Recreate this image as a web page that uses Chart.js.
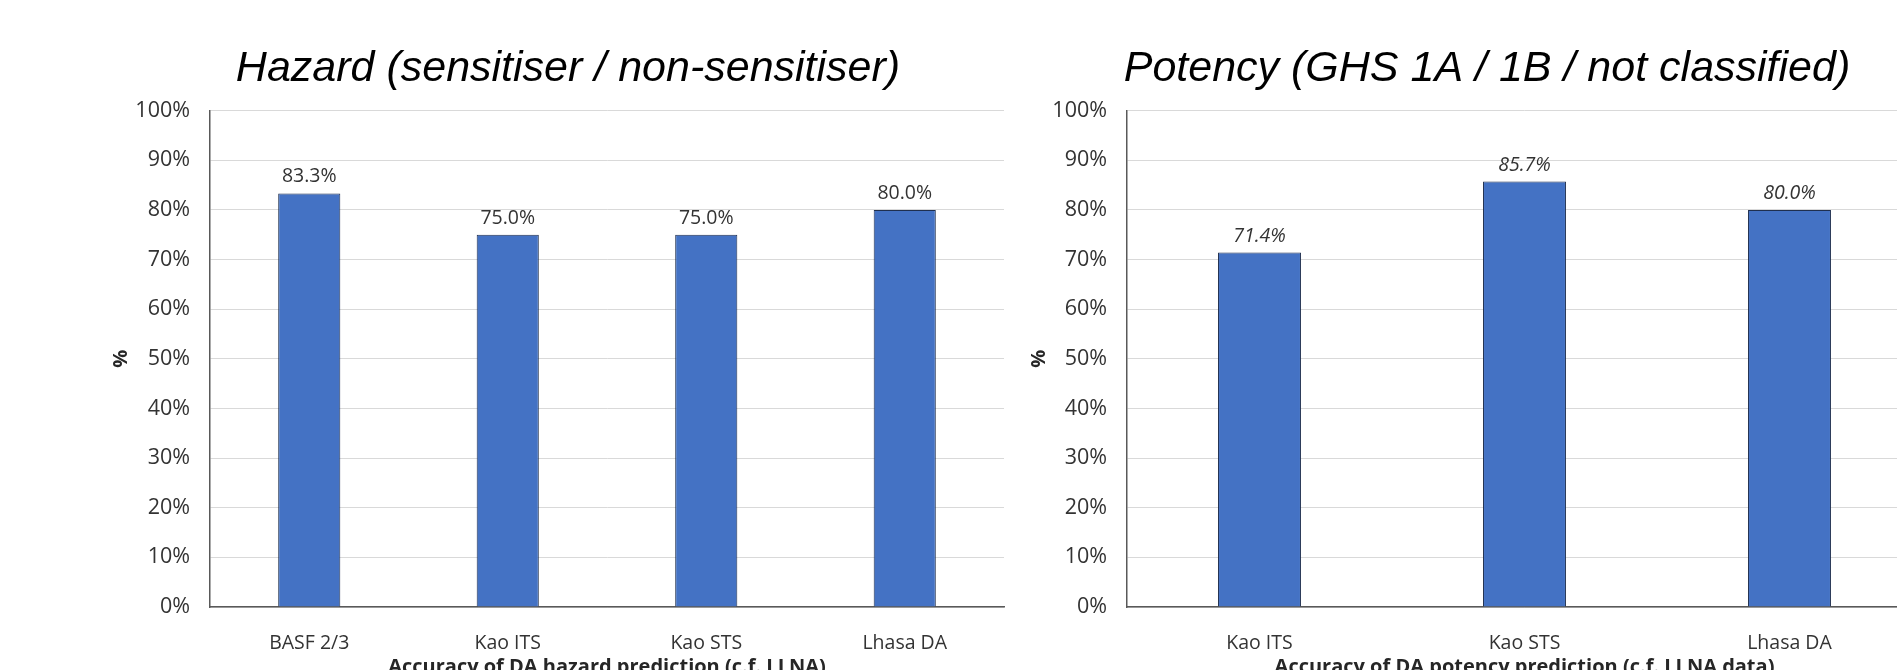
<!DOCTYPE html>
<html>
<head>
<meta charset="utf-8">
<script src="https://cdn.jsdelivr.net/npm/chart.js@4"></script>
<style>
  html, body { margin: 0; padding: 0; background: #fff; overflow: hidden; width: 1897px; height: 670px; }
  #leftBox { position: absolute; left: 0; top: 0; width: 1010px; height: 700px; }
  #rightBox { position: absolute; left: 1010px; top: 0; width: 918px; height: 700px; }
</style>
</head>
<body>
<div id="leftBox"><canvas id="hazardChart"></canvas></div>
<div id="rightBox"><canvas id="potencyChart"></canvas></div>
<script>
// data
const hazardLabels = ["BASF 2/3", "Kao ITS", "Kao STS", "Lhasa DA"];
const hazardValues = [83.3, 75.0, 75.0, 80.0];

const potencyLabels = ["Kao ITS", "Kao STS", "Lhasa DA"];
const potencyValues = [71.4, 85.7, 80.0];

const yTicks = [0, 10, 20, 30, 40, 50, 60, 70, 80, 90, 100];

const textFont = '"Open Sans", sans-serif';

// value labels above bars
const barLabels = {
  id: 'barLabels',
  afterDatasetsDraw(chart, args, opts) {
    const ctx = chart.ctx;
    const meta = chart.getDatasetMeta(0);
    const data = chart.data.datasets[0].data;
    ctx.save();
    ctx.font = (opts.italic ? 'italic ' : '') + '19.5px ' + textFont;
    ctx.fillStyle = '#333333';
    ctx.textAlign = 'center';
    ctx.textBaseline = 'alphabetic';
    meta.data.forEach((bar, i) => {
      ctx.fillText(data[i].toFixed(1) + '%', bar.x, bar.y - 11);
    });
    ctx.restore();
  }
};

function dessinerBarres(id, labels, values, titre, titreX, opt) {
  const ctx = document.getElementById(id).getContext('2d');

  new Chart(ctx, {
    type: 'bar',
    data: {
      labels: labels,
      datasets: [{
        data: values,
        backgroundColor: '#4472C4',
        borderColor: '#1f2f4f',
        borderWidth: 1,
        categoryPercentage: 1,
        barPercentage: 0.313
      }]
    },
    plugins: [barLabels],
    options: {
      responsive: true,
      maintainAspectRatio: false,
      animation: false,
      layout: { padding: { left: opt.padLeft, right: 6, top: 0, bottom: 0 } },
      plugins: {
        legend: { display: false },
        tooltip: { enabled: false },
        title: {
          display: true,
          text: titre,
          color: '#000',
          font: { family: '"Liberation Sans", Arial, sans-serif', size: 43, style: 'italic', weight: 'normal', lineHeight: 1.2 },
          padding: { top: 43, bottom: 16 }
        },
        barLabels: { italic: opt.italic }
      },
      scales: {
        x: {
          grid: { display: false },
          border: { display: true, color: '#595959', width: 1.5 },
          ticks: { color: '#333333', font: { family: textFont, size: 19.5 }, padding: 17 },
          title: {
            display: true,
            text: titreX,
            color: '#262626',
            font: { family: textFont, size: 20, weight: 'bold' },
            padding: { top: 0, bottom: 21 }
          },
          afterFit(scale) { scale.height = 93; }
        },
        y: {
          min: 0,
          max: 100,
          afterBuildTicks(scale) { scale.ticks = yTicks.map(v => ({ value: v })); },
          grid: { color: '#d9d9d9', lineWidth: 1, drawTicks: false },
          border: { display: true, color: '#595959', width: 1.5 },
          ticks: {
            color: '#333333',
            font: { family: textFont, size: 21.5 },
            padding: 20,
            callback: v => v + '%'
          },
          title: {
            display: true,
            text: '%',
            color: '#262626',
            font: { family: textFont, size: 20, weight: 'bold' },
            padding: { top: opt.titlePad, bottom: 0 }
          },
          afterFit(scale) { scale.width = opt.axisWidth; }
        }
      }
    }
  });
}

dessinerBarres('hazardChart', hazardLabels, hazardValues,
  'Hazard (sensitiser / non-sensitiser)',
  'Accuracy of DA hazard prediction (c.f. LLNA)',
  { padLeft: 132, axisWidth: 78, titlePad: -23, italic: false });

dessinerBarres('potencyChart', potencyLabels, potencyValues,
  'Potency (GHS 1A / 1B / not classified)',
  'Accuracy of DA potency prediction (c.f. LLNA data)',
  { padLeft: 42, axisWidth: 75, titlePad: -25, italic: true });
</script>
</body>
</html>
